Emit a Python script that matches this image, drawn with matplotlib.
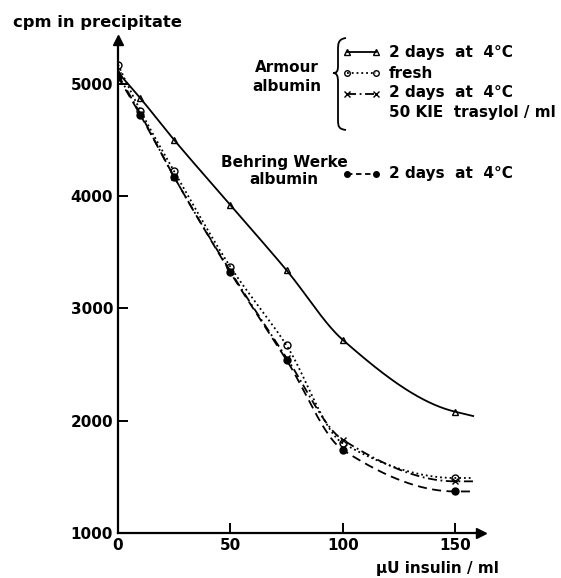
import matplotlib
matplotlib.use('Agg')
import matplotlib.pyplot as plt
import numpy as np
from matplotlib.path import Path
from matplotlib.patches import PathPatch
from matplotlib.lines import Line2D

# data
insulin = [0, 10, 25, 50, 75, 100, 150]
armour_2d = [5100, 4870, 4500, 3920, 3340, 2720, 2080]
armour_fresh = [5170, 4760, 4220, 3370, 2670, 1800, 1490]
armour_trasylol = [5080, 4730, 4170, 3330, 2560, 1830, 1460]
behring_2d = [5060, 4720, 4170, 3320, 2540, 1740, 1370]
x_ticks = [0, 50, 100, 150]
y_ticks = [1000, 2000, 3000, 4000, 5000]


def smooth(x, y, xs):
    # monotone cubic (Fritsch-Carlson) through the points, straight on past the last one
    x = np.asarray(x, float); y = np.asarray(y, float)
    h = np.diff(x)
    d = np.diff(y) / h
    n = len(x)
    m = np.zeros(n)
    for k in range(1, n - 1):
        if d[k - 1] * d[k] > 0:
            w1 = 2 * h[k] + h[k - 1]; w2 = h[k] + 2 * h[k - 1]
            m[k] = (w1 + w2) / (w1 / d[k - 1] + w2 / d[k])
    for k, (h0, h1, d0, d1) in [(0, (h[0], h[1], d[0], d[1])), (n - 1, (h[-1], h[-2], d[-1], d[-2]))]:
        e = ((2 * h0 + h1) * d0 - h0 * d1) / (h0 + h1)
        if np.sign(e) != np.sign(d0):
            e = 0
        elif np.sign(d0) != np.sign(d1) and abs(e) > 3 * abs(d0):
            e = 3 * d0
        m[k] = e
    out = []
    for t in xs:
        if t >= x[-1]:
            out.append(y[-1] + m[-1] * (t - x[-1]))
            continue
        i = min(np.searchsorted(x, t, side='right') - 1, n - 2)
        s = (t - x[i]) / h[i]
        out.append((2 * s**3 - 3 * s**2 + 1) * y[i] + (s**3 - 2 * s**2 + s) * h[i] * m[i]
                   + (-2 * s**3 + 3 * s**2) * y[i + 1] + (s**3 - s**2) * h[i] * m[i + 1])
    return np.array(out)


W, H = 561, 578
fig = plt.figure(figsize=(W / 100, H / 100), dpi=100)
ax = fig.add_axes([118 / W, 1 - 533 / H, 363 / W, 493 / H])
ax.set_xlim(0, 161.5)
ax.set_ylim(1000, 5390)

xs = np.linspace(0, 158, 400)
series = [
    (armour_2d, '^', '-', 'none'),
    (armour_fresh, 'o', ':', 'none'),
    (armour_trasylol, 'x', (0, (5, 2, 1, 2)), 'none'),
    (behring_2d, 'o', (0, (5, 3)), 'black'),
]
for ys, mk, ls, fc in series:
    ax.plot(xs, smooth(insulin, ys, xs), color='black', lw=1.3, ls=ls)
    ax.plot(insulin, ys, ls='none', marker=mk, ms=5, mfc=fc, mec='black', mew=1.0)

for s in ['top', 'right']:
    ax.spines[s].set_visible(False)
for s in ['left', 'bottom']:
    ax.spines[s].set_linewidth(1.6)
ax.plot(1, 0, '>k', ms=7, transform=ax.transAxes, clip_on=False)
ax.plot(0, 1, '^k', ms=7, transform=ax.transAxes, clip_on=False)

ax.set_xticks(x_ticks)
ax.set_yticks(y_ticks)
ax.tick_params(direction='in', length=7, width=1.4, labelsize=11)
for lab in ax.get_xticklabels() + ax.get_yticklabels():
    lab.set_fontweight('bold')

fig.text(97 / W, 1 - 22 / H, 'cpm in precipitate', ha='center', va='center', fontsize=11.8, fontweight='bold')
fig.text(499 / W, 1 - 569 / H, 'µU insulin / ml', ha='right', va='center', fontsize=11, fontweight='bold')


# legend drawn by hand, positions in pixels
def fx(p):
    return p / W


def fy(p):
    return 1 - p / H


fig.text(fx(287), fy(77), 'Armour\nalbumin', ha='center', va='center', fontsize=11, fontweight='bold', linespacing=1.3)
fig.text(fx(284), fy(171), 'Behring Werke\nalbumin', ha='center', va='center', fontsize=11, fontweight='bold', linespacing=1.1)

bx = [(346, 38), (338, 39), (338, 44), (338, 50), (338, 66), (338, 71), (337, 73), (333, 73),
      (333, 73), (337, 73), (338, 76), (338, 82), (338, 120), (338, 127), (339, 129), (346, 130)]
half = [Path.MOVETO, Path.CURVE4, Path.CURVE4, Path.CURVE4, Path.LINETO, Path.CURVE4, Path.CURVE4, Path.CURVE4]
brace = Path([(fx(a), fy(b)) for a, b in bx], half + half)
fig.add_artist(PathPatch(brace, transform=fig.transFigure, fill=False, lw=1.3, color='black'))

rows = [
    (52, '^', '-', 'none', '2 days  at  4°C'),
    (73, 'o', ':', 'none', 'fresh'),
    (94, 'x', (0, (5, 2, 1, 2)), 'none', '2 days  at  4°C\n50 KIE  trasylol / ml'),
    (174, 'o', (0, (3, 2)), 'black', '2 days  at  4°C'),
]
for yy, mk, ls, fc, txt in rows:
    fig.add_artist(Line2D([fx(347), fx(376)], [fy(yy), fy(yy)], color='black', lw=1.3, ls=ls,
                          transform=fig.transFigure))
    fig.add_artist(Line2D([fx(347), fx(376)], [fy(yy), fy(yy)], ls='none', marker=mk, ms=4,
                          mfc=fc, mec='black', mew=1.0, transform=fig.transFigure))
    if '\n' in txt:
        fig.text(fx(389), fy(yy - 9), txt, ha='left', va='top', fontsize=11, fontweight='bold', linespacing=1.45)
    else:
        fig.text(fx(389), fy(yy), txt, ha='left', va='center', fontsize=11, fontweight='bold')

fig.savefig('out.png', dpi=100)
